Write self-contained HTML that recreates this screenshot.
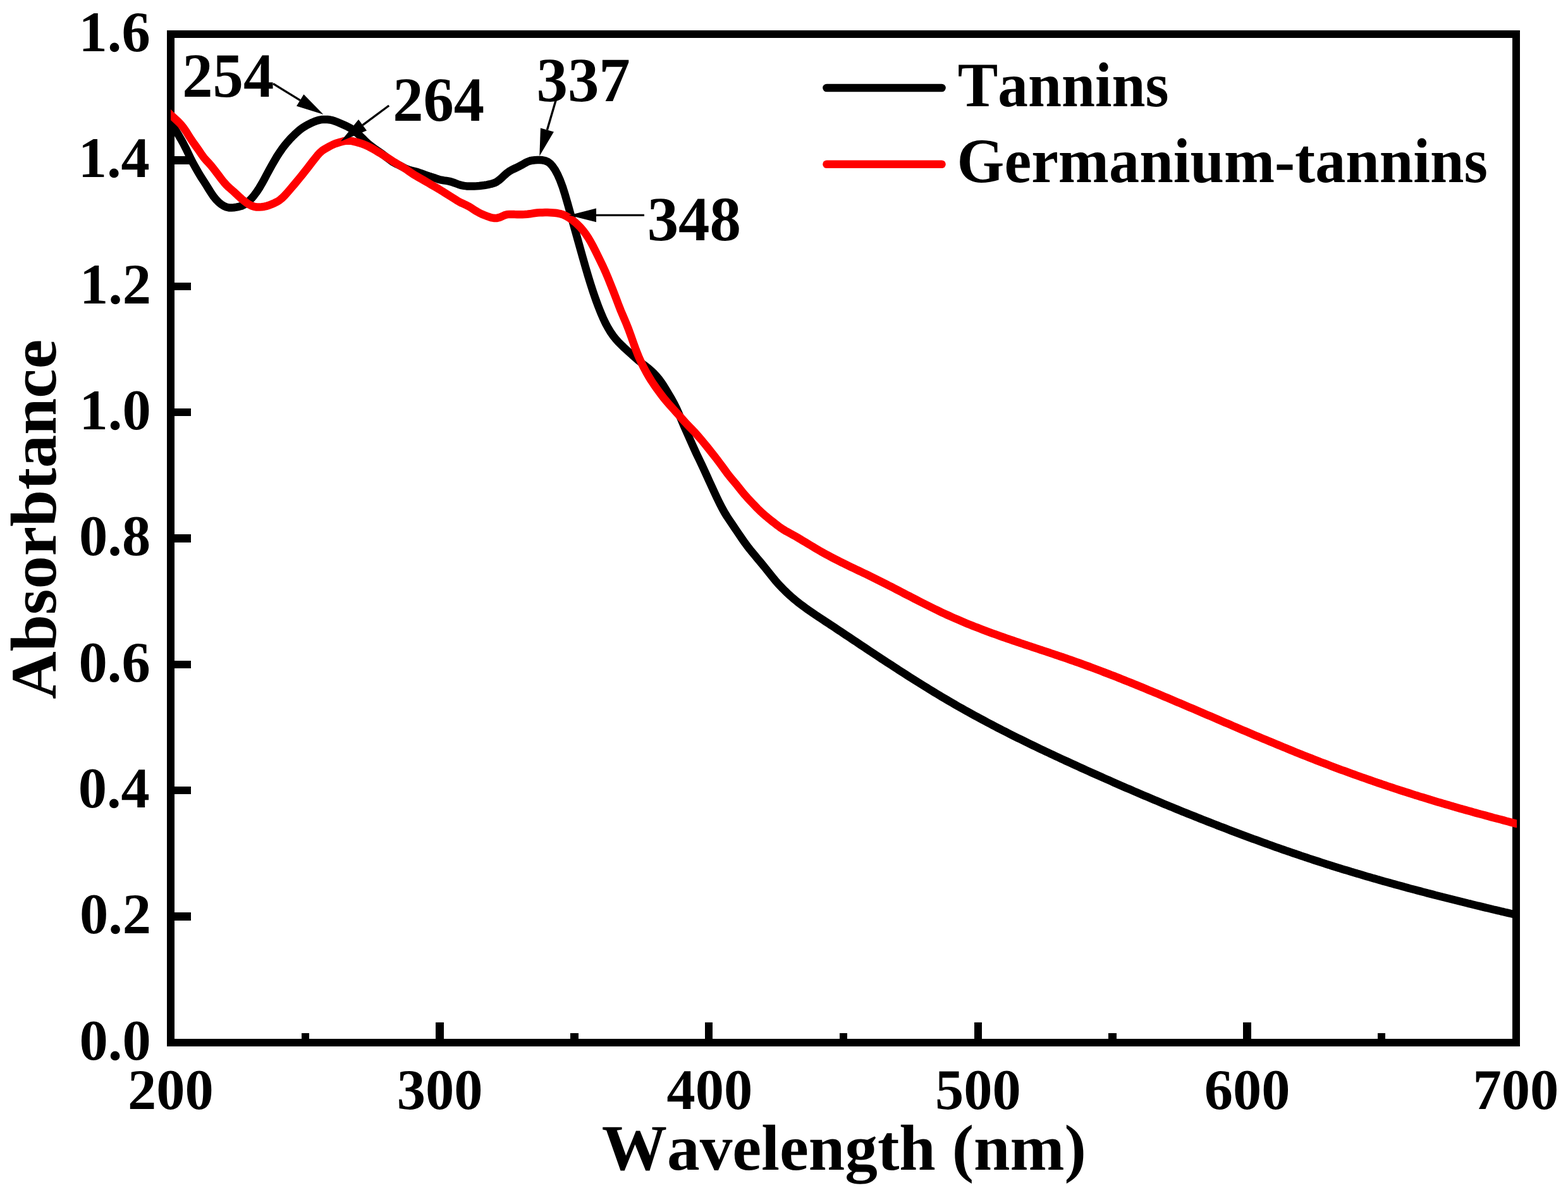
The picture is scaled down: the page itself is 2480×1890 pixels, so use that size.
<!DOCTYPE html>
<html lang="en"><head><meta charset="utf-8"><title>UV-Vis absorbance: Tannins vs Germanium-tannins</title>
<style>html,body{margin:0;padding:0;background:#fff;}body{width:2480px;height:1890px;overflow:hidden;}svg{display:block;}text{font-family:"Liberation Serif","DejaVu Serif",serif;font-weight:bold;font-kerning:none;fill:#000;}</style></head><body>
<svg xmlns="http://www.w3.org/2000/svg" width="2480" height="1890" viewBox="0 0 2480 1890" shape-rendering="crispEdges">
<rect x="0" y="0" width="2480" height="1890" fill="#fff"/>
<g fill="#000">
<rect x="264.00" y="48.00" width="12.00" height="1607.00"/>
<rect x="2392.00" y="48.00" width="12.00" height="1607.00"/>
<rect x="264.00" y="48.00" width="2140.00" height="12.00"/>
<rect x="264.00" y="1643.00" width="2140.00" height="12.00"/>
<rect x="270.00" y="1642.80" width="32.00" height="12.40"/>
<rect x="270.00" y="1443.42" width="32.00" height="12.40"/>
<rect x="270.00" y="1244.05" width="32.00" height="12.40"/>
<rect x="270.00" y="1044.67" width="32.00" height="12.40"/>
<rect x="270.00" y="845.30" width="32.00" height="12.40"/>
<rect x="270.00" y="645.92" width="32.00" height="12.40"/>
<rect x="270.00" y="446.55" width="32.00" height="12.40"/>
<rect x="270.00" y="247.18" width="32.00" height="12.40"/>
<rect x="270.00" y="47.80" width="32.00" height="12.40"/>
<rect x="263.80" y="1617.00" width="12.40" height="32.00"/>
<rect x="689.40" y="1617.00" width="12.40" height="32.00"/>
<rect x="1115.00" y="1617.00" width="12.40" height="32.00"/>
<rect x="1540.60" y="1617.00" width="12.40" height="32.00"/>
<rect x="1966.20" y="1617.00" width="12.40" height="32.00"/>
<rect x="2391.80" y="1617.00" width="12.40" height="32.00"/>
<rect x="476.60" y="1633.50" width="12.40" height="15.50"/>
<rect x="902.20" y="1633.50" width="12.40" height="15.50"/>
<rect x="1327.80" y="1633.50" width="12.40" height="15.50"/>
<rect x="1753.40" y="1633.50" width="12.40" height="15.50"/>
<rect x="2179.00" y="1633.50" width="12.40" height="15.50"/>
</g>
<clipPath id="plotclip"><rect x="270.0" y="54.0" width="2129.0" height="1595.0"/></clipPath>
<g fill="none" stroke-width="12.5" stroke-linejoin="round" stroke-linecap="butt" shape-rendering="geometricPrecision" clip-path="url(#plotclip)">
<path stroke="#000" d="M262.0,177.9 L266.0,185.0 L270.0,192.2 L274.0,199.5 L278.0,206.4 L282.0,213.0 L286.0,219.8 L290.0,227.0 L294.0,234.8 L298.0,243.1 L302.0,251.6 L306.0,259.3 L310.0,266.4 L314.0,273.3 L318.0,280.0 L322.0,286.2 L326.0,292.4 L330.0,298.9 L334.0,305.3 L338.0,311.1 L342.0,315.9 L346.0,320.0 L350.0,323.3 L354.0,325.8 L358.0,327.5 L362.0,328.4 L366.0,328.5 L370.0,328.2 L374.0,327.6 L378.0,326.8 L382.0,325.7 L386.0,323.9 L390.0,321.2 L394.0,317.8 L398.0,313.7 L402.0,308.9 L406.0,303.5 L410.0,297.5 L414.0,290.7 L418.0,283.4 L422.0,275.9 L426.0,268.5 L430.0,261.3 L434.0,254.3 L438.0,247.5 L442.0,241.3 L446.0,235.6 L450.0,230.3 L454.0,225.4 L458.0,220.8 L462.0,216.6 L466.0,212.7 L470.0,209.0 L474.0,205.6 L478.0,202.6 L482.0,200.0 L486.0,197.7 L490.0,195.7 L494.0,193.7 L498.0,192.0 L502.0,190.6 L506.0,189.6 L510.0,189.0 L514.0,188.9 L518.0,189.0 L522.0,189.5 L526.0,190.4 L530.0,191.7 L534.0,193.3 L538.0,195.0 L542.0,196.7 L546.0,198.5 L550.0,200.4 L554.0,202.6 L558.0,205.2 L562.0,208.3 L566.0,211.7 L570.0,215.4 L574.0,219.3 L578.0,223.3 L582.0,227.0 L586.0,230.3 L590.0,233.3 L594.0,236.2 L598.0,238.9 L602.0,241.7 L606.0,244.6 L610.0,247.7 L614.0,250.8 L618.0,253.8 L622.0,256.6 L626.0,258.8 L630.0,260.7 L634.0,262.7 L638.0,264.8 L642.0,266.8 L646.0,268.4 L650.0,269.6 L654.0,270.6 L658.0,271.6 L662.0,272.8 L666.0,274.2 L670.0,275.7 L674.0,277.1 L678.0,278.5 L682.0,279.8 L686.0,281.0 L690.0,282.4 L694.0,283.7 L698.0,284.7 L702.0,285.4 L706.0,285.9 L710.0,286.6 L714.0,287.6 L718.0,289.0 L722.0,290.5 L726.0,292.0 L730.0,293.1 L734.0,293.9 L738.0,294.4 L742.0,294.6 L746.0,294.6 L750.0,294.5 L754.0,294.3 L758.0,294.0 L762.0,293.5 L766.0,293.0 L770.0,292.3 L774.0,291.5 L778.0,290.6 L782.0,289.3 L786.0,287.3 L790.0,284.4 L794.0,280.8 L798.0,277.0 L802.0,273.5 L806.0,270.7 L810.0,268.4 L814.0,266.5 L818.0,264.6 L822.0,262.6 L826.0,260.4 L830.0,258.1 L834.0,256.0 L838.0,254.5 L842.0,253.7 L846.0,253.2 L850.0,253.0 L854.0,253.0 L858.0,253.3 L862.0,254.1 L866.0,255.7 L870.0,258.5 L874.0,262.9 L878.0,268.8 L882.0,276.2 L886.0,285.3 L890.0,296.2 L894.0,308.9 L898.0,322.8 L902.0,337.1 L906.0,351.4 L910.0,365.5 L914.0,379.7 L918.0,394.1 L922.0,408.4 L926.0,422.4 L930.0,436.0 L934.0,449.0 L938.0,461.4 L942.0,473.0 L946.0,483.8 L950.0,494.0 L954.0,503.4 L958.0,511.7 L962.0,519.1 L966.0,525.7 L970.0,531.4 L974.0,536.4 L978.0,540.9 L982.0,544.9 L986.0,548.8 L990.0,552.5 L994.0,556.1 L998.0,559.7 L1002.0,563.2 L1006.0,566.7 L1010.0,570.2 L1014.0,573.6 L1018.0,576.8 L1022.0,579.8 L1026.0,583.0 L1030.0,586.4 L1034.0,590.3 L1038.0,594.5 L1042.0,599.3 L1046.0,604.7 L1050.0,610.8 L1054.0,617.3 L1058.0,623.9 L1062.0,630.7 L1066.0,638.0 L1070.0,646.1 L1074.0,655.1 L1078.0,664.7 L1082.0,674.0 L1086.0,683.0 L1090.0,692.0 L1094.0,701.0 L1098.0,709.9 L1102.0,718.6 L1106.0,726.9 L1110.0,735.3 L1114.0,743.9 L1118.0,752.7 L1122.0,761.5 L1126.0,770.2 L1130.0,778.8 L1134.0,787.3 L1138.0,795.6 L1142.0,803.4 L1146.0,810.6 L1150.0,817.1 L1154.0,823.1 L1158.0,829.0 L1162.0,834.9 L1166.0,840.9 L1170.0,846.8 L1174.0,852.6 L1178.0,858.3 L1182.0,863.7 L1186.0,868.9 L1190.0,873.8 L1194.0,878.6 L1198.0,883.4 L1202.0,888.1 L1206.0,893.0 L1210.0,897.9 L1214.0,902.9 L1218.0,907.9 L1222.0,912.9 L1226.0,917.8 L1230.0,922.4 L1234.0,926.7 L1238.0,930.9 L1242.0,934.9 L1246.0,938.7 L1250.0,942.4 L1254.0,945.9 L1258.0,949.2 L1262.0,952.5 L1266.0,955.6 L1270.0,958.6 L1274.0,961.5 L1278.0,964.4 L1282.0,967.1 L1286.0,969.9 L1290.0,972.6 L1294.0,975.2 L1298.0,977.9 L1302.0,980.5 L1306.0,983.2 L1310.0,985.8 L1314.0,988.5 L1318.0,991.1 L1322.0,993.8 L1326.0,996.5 L1330.0,999.1 L1334.0,1001.8 L1338.0,1004.5 L1342.0,1007.1 L1346.0,1009.8 L1350.0,1012.5 L1354.0,1015.1 L1358.0,1017.8 L1362.0,1020.5 L1366.0,1023.1 L1370.0,1025.8 L1374.0,1028.4 L1378.0,1031.1 L1382.0,1033.7 L1386.0,1036.4 L1390.0,1039.0 L1394.0,1041.7 L1398.0,1044.3 L1402.0,1046.9 L1406.0,1049.5 L1410.0,1052.1 L1414.0,1054.7 L1418.0,1057.3 L1422.0,1059.9 L1426.0,1062.5 L1430.0,1065.1 L1434.0,1067.6 L1438.0,1070.2 L1442.0,1072.7 L1446.0,1075.3 L1450.0,1077.8 L1454.0,1080.3 L1458.0,1082.8 L1462.0,1085.3 L1466.0,1087.7 L1470.0,1090.2 L1474.0,1092.6 L1478.0,1095.1 L1482.0,1097.5 L1486.0,1099.9 L1490.0,1102.3 L1494.0,1104.7 L1498.0,1107.0 L1502.0,1109.4 L1506.0,1111.7 L1510.0,1114.0 L1514.0,1116.3 L1518.0,1118.6 L1522.0,1120.8 L1526.0,1123.1 L1530.0,1125.3 L1534.0,1127.5 L1538.0,1129.7 L1542.0,1131.9 L1546.0,1134.1 L1550.0,1136.3 L1554.0,1138.4 L1558.0,1140.6 L1562.0,1142.7 L1566.0,1144.8 L1570.0,1146.9 L1574.0,1149.0 L1578.0,1151.1 L1582.0,1153.1 L1586.0,1155.2 L1590.0,1157.2 L1594.0,1159.3 L1598.0,1161.3 L1602.0,1163.3 L1606.0,1165.3 L1610.0,1167.3 L1614.0,1169.2 L1618.0,1171.2 L1622.0,1173.2 L1626.0,1175.1 L1630.0,1177.1 L1634.0,1179.0 L1638.0,1180.9 L1642.0,1182.9 L1646.0,1184.8 L1650.0,1186.7 L1654.0,1188.6 L1658.0,1190.4 L1662.0,1192.3 L1666.0,1194.2 L1670.0,1196.1 L1674.0,1197.9 L1678.0,1199.8 L1682.0,1201.6 L1686.0,1203.5 L1690.0,1205.3 L1694.0,1207.2 L1698.0,1209.0 L1702.0,1210.8 L1706.0,1212.6 L1710.0,1214.5 L1714.0,1216.3 L1718.0,1218.1 L1722.0,1219.9 L1726.0,1221.7 L1730.0,1223.5 L1734.0,1225.3 L1738.0,1227.0 L1742.0,1228.8 L1746.0,1230.6 L1750.0,1232.4 L1754.0,1234.1 L1758.0,1235.9 L1762.0,1237.7 L1766.0,1239.4 L1770.0,1241.2 L1774.0,1242.9 L1778.0,1244.7 L1782.0,1246.4 L1786.0,1248.1 L1790.0,1249.8 L1794.0,1251.6 L1798.0,1253.3 L1802.0,1255.0 L1806.0,1256.7 L1810.0,1258.4 L1814.0,1260.1 L1818.0,1261.8 L1822.0,1263.5 L1826.0,1265.2 L1830.0,1266.8 L1834.0,1268.5 L1838.0,1270.2 L1842.0,1271.9 L1846.0,1273.5 L1850.0,1275.2 L1854.0,1276.8 L1858.0,1278.5 L1862.0,1280.1 L1866.0,1281.7 L1870.0,1283.4 L1874.0,1285.0 L1878.0,1286.6 L1882.0,1288.2 L1886.0,1289.8 L1890.0,1291.4 L1894.0,1293.0 L1898.0,1294.6 L1902.0,1296.2 L1906.0,1297.8 L1910.0,1299.4 L1914.0,1300.9 L1918.0,1302.5 L1922.0,1304.0 L1926.0,1305.6 L1930.0,1307.2 L1934.0,1308.7 L1938.0,1310.2 L1942.0,1311.8 L1946.0,1313.3 L1950.0,1314.8 L1954.0,1316.3 L1958.0,1317.8 L1962.0,1319.3 L1966.0,1320.8 L1970.0,1322.3 L1974.0,1323.8 L1978.0,1325.3 L1982.0,1326.8 L1986.0,1328.2 L1990.0,1329.7 L1994.0,1331.2 L1998.0,1332.6 L2002.0,1334.0 L2006.0,1335.5 L2010.0,1336.9 L2014.0,1338.3 L2018.0,1339.8 L2022.0,1341.2 L2026.0,1342.6 L2030.0,1344.0 L2034.0,1345.4 L2038.0,1346.7 L2042.0,1348.1 L2046.0,1349.5 L2050.0,1350.8 L2054.0,1352.2 L2058.0,1353.6 L2062.0,1354.9 L2066.0,1356.2 L2070.0,1357.6 L2074.0,1358.9 L2078.0,1360.2 L2082.0,1361.5 L2086.0,1362.8 L2090.0,1364.1 L2094.0,1365.4 L2098.0,1366.7 L2102.0,1367.9 L2106.0,1369.2 L2110.0,1370.5 L2114.0,1371.7 L2118.0,1372.9 L2122.0,1374.2 L2126.0,1375.4 L2130.0,1376.6 L2134.0,1377.8 L2138.0,1379.1 L2142.0,1380.3 L2146.0,1381.4 L2150.0,1382.6 L2154.0,1383.8 L2158.0,1385.0 L2162.0,1386.2 L2166.0,1387.3 L2170.0,1388.5 L2174.0,1389.6 L2178.0,1390.8 L2182.0,1391.9 L2186.0,1393.1 L2190.0,1394.2 L2194.0,1395.3 L2198.0,1396.4 L2202.0,1397.5 L2206.0,1398.6 L2210.0,1399.7 L2214.0,1400.8 L2218.0,1401.9 L2222.0,1403.0 L2226.0,1404.1 L2230.0,1405.2 L2234.0,1406.2 L2238.0,1407.3 L2242.0,1408.4 L2246.0,1409.4 L2250.0,1410.5 L2254.0,1411.5 L2258.0,1412.6 L2262.0,1413.6 L2266.0,1414.6 L2270.0,1415.7 L2274.0,1416.7 L2278.0,1417.7 L2282.0,1418.8 L2286.0,1419.8 L2290.0,1420.8 L2294.0,1421.8 L2298.0,1422.8 L2302.0,1423.8 L2306.0,1424.8 L2310.0,1425.8 L2314.0,1426.8 L2318.0,1427.8 L2322.0,1428.8 L2326.0,1429.7 L2330.0,1430.7 L2334.0,1431.7 L2338.0,1432.7 L2342.0,1433.6 L2346.0,1434.6 L2350.0,1435.6 L2354.0,1436.5 L2358.0,1437.5 L2362.0,1438.5 L2366.0,1439.4 L2370.0,1440.3 L2374.0,1441.3 L2378.0,1442.2 L2382.0,1443.2 L2386.0,1444.1 L2390.0,1445.0 L2394.0,1446.0 L2398.0,1446.9 L2402.0,1447.8 L2406.0,1448.7"/>
<path stroke="#ff0000" d="M262.0,174.0 L266.0,177.8 L270.0,181.5 L274.0,185.1 L278.0,188.8 L282.0,192.6 L286.0,196.8 L290.0,201.7 L294.0,207.3 L298.0,213.7 L302.0,220.0 L306.0,225.9 L310.0,231.5 L314.0,237.2 L318.0,243.1 L322.0,248.7 L326.0,253.4 L330.0,257.6 L334.0,262.2 L338.0,267.2 L342.0,272.4 L346.0,277.6 L350.0,282.9 L354.0,288.0 L358.0,292.5 L362.0,296.4 L366.0,299.9 L370.0,303.4 L374.0,307.1 L378.0,310.9 L382.0,314.5 L386.0,317.8 L390.0,320.8 L394.0,323.4 L398.0,325.5 L402.0,326.8 L406.0,327.5 L410.0,327.6 L414.0,327.3 L418.0,326.7 L422.0,325.8 L426.0,324.5 L430.0,322.9 L434.0,321.2 L438.0,319.2 L442.0,316.7 L446.0,313.4 L450.0,309.5 L454.0,305.1 L458.0,300.5 L462.0,295.8 L466.0,291.1 L470.0,286.3 L474.0,281.4 L478.0,276.5 L482.0,271.4 L486.0,266.3 L490.0,261.1 L494.0,255.9 L498.0,250.8 L502.0,245.8 L506.0,241.4 L510.0,238.0 L514.0,235.4 L518.0,233.2 L522.0,231.0 L526.0,229.0 L530.0,227.3 L534.0,226.0 L538.0,224.8 L542.0,223.7 L546.0,222.8 L550.0,222.5 L554.0,222.7 L558.0,223.4 L562.0,224.3 L566.0,225.4 L570.0,226.5 L574.0,227.9 L578.0,229.5 L582.0,231.3 L586.0,233.4 L590.0,235.6 L594.0,237.9 L598.0,240.3 L602.0,242.7 L606.0,245.2 L610.0,247.7 L614.0,250.3 L618.0,252.8 L622.0,255.4 L626.0,257.9 L630.0,260.3 L634.0,262.6 L638.0,265.0 L642.0,267.5 L646.0,270.3 L650.0,273.1 L654.0,275.8 L658.0,278.2 L662.0,280.5 L666.0,282.7 L670.0,285.0 L674.0,287.4 L678.0,289.7 L682.0,292.1 L686.0,294.4 L690.0,296.7 L694.0,299.0 L698.0,301.5 L702.0,303.9 L706.0,306.5 L710.0,309.0 L714.0,311.5 L718.0,314.0 L722.0,316.6 L726.0,319.0 L730.0,321.1 L734.0,322.8 L738.0,324.7 L742.0,326.8 L746.0,329.3 L750.0,331.9 L754.0,334.4 L758.0,336.7 L762.0,338.6 L766.0,340.2 L770.0,341.8 L774.0,343.2 L778.0,344.4 L782.0,345.0 L786.0,344.9 L790.0,343.9 L794.0,342.2 L798.0,340.4 L802.0,339.3 L806.0,338.9 L810.0,338.9 L814.0,339.1 L818.0,339.2 L822.0,339.3 L826.0,339.2 L830.0,339.0 L834.0,338.7 L838.0,338.3 L842.0,337.6 L846.0,337.0 L850.0,336.5 L854.0,336.3 L858.0,336.2 L862.0,336.1 L866.0,336.1 L870.0,336.2 L874.0,336.4 L878.0,336.7 L882.0,337.3 L886.0,338.1 L890.0,339.2 L894.0,341.0 L898.0,343.2 L902.0,345.8 L906.0,348.6 L910.0,351.9 L914.0,355.6 L918.0,359.7 L922.0,364.3 L926.0,369.5 L930.0,375.4 L934.0,382.1 L938.0,389.5 L942.0,397.3 L946.0,405.5 L950.0,413.7 L954.0,422.0 L958.0,430.8 L962.0,440.4 L966.0,450.4 L970.0,460.4 L974.0,470.7 L978.0,481.4 L982.0,491.6 L986.0,501.0 L990.0,510.4 L994.0,520.4 L998.0,531.3 L1002.0,542.7 L1006.0,553.8 L1010.0,563.9 L1014.0,572.8 L1018.0,580.9 L1022.0,588.4 L1026.0,595.4 L1030.0,601.9 L1034.0,607.9 L1038.0,613.6 L1042.0,619.1 L1046.0,624.5 L1050.0,629.7 L1054.0,634.5 L1058.0,639.2 L1062.0,643.7 L1066.0,648.1 L1070.0,652.6 L1074.0,657.0 L1078.0,661.5 L1082.0,666.0 L1086.0,670.4 L1090.0,674.6 L1094.0,678.7 L1098.0,682.8 L1102.0,687.2 L1106.0,691.8 L1110.0,696.5 L1114.0,701.4 L1118.0,706.3 L1122.0,711.2 L1126.0,716.3 L1130.0,721.4 L1134.0,726.5 L1138.0,731.9 L1142.0,737.3 L1146.0,742.8 L1150.0,748.3 L1154.0,753.4 L1158.0,758.2 L1162.0,763.0 L1166.0,767.8 L1170.0,772.9 L1174.0,777.9 L1178.0,782.7 L1182.0,787.2 L1186.0,791.5 L1190.0,795.7 L1194.0,799.9 L1198.0,804.1 L1202.0,808.0 L1206.0,811.8 L1210.0,815.2 L1214.0,818.6 L1218.0,821.8 L1222.0,825.0 L1226.0,828.2 L1230.0,831.3 L1234.0,834.2 L1238.0,836.9 L1242.0,839.4 L1246.0,841.6 L1250.0,843.7 L1254.0,845.9 L1258.0,848.2 L1262.0,850.5 L1266.0,852.9 L1270.0,855.3 L1274.0,857.7 L1278.0,860.1 L1282.0,862.5 L1286.0,864.9 L1290.0,867.3 L1294.0,869.6 L1298.0,872.0 L1302.0,874.2 L1306.0,876.4 L1310.0,878.6 L1314.0,880.8 L1318.0,882.9 L1322.0,884.9 L1326.0,886.9 L1330.0,889.0 L1334.0,890.9 L1338.0,892.9 L1342.0,894.8 L1346.0,896.8 L1350.0,898.7 L1354.0,900.6 L1358.0,902.5 L1362.0,904.4 L1366.0,906.3 L1370.0,908.2 L1374.0,910.2 L1378.0,912.1 L1382.0,914.1 L1386.0,916.1 L1390.0,918.1 L1394.0,920.1 L1398.0,922.1 L1402.0,924.1 L1406.0,926.2 L1410.0,928.2 L1414.0,930.3 L1418.0,932.4 L1422.0,934.4 L1426.0,936.5 L1430.0,938.6 L1434.0,940.7 L1438.0,942.7 L1442.0,944.8 L1446.0,946.9 L1450.0,948.9 L1454.0,951.0 L1458.0,953.0 L1462.0,955.0 L1466.0,957.0 L1470.0,959.0 L1474.0,961.0 L1478.0,963.0 L1482.0,964.9 L1486.0,966.9 L1490.0,968.8 L1494.0,970.6 L1498.0,972.5 L1502.0,974.3 L1506.0,976.1 L1510.0,977.9 L1514.0,979.6 L1518.0,981.3 L1522.0,983.0 L1526.0,984.7 L1530.0,986.4 L1534.0,988.0 L1538.0,989.6 L1542.0,991.2 L1546.0,992.7 L1550.0,994.3 L1554.0,995.8 L1558.0,997.3 L1562.0,998.8 L1566.0,1000.3 L1570.0,1001.8 L1574.0,1003.2 L1578.0,1004.6 L1582.0,1006.1 L1586.0,1007.5 L1590.0,1008.9 L1594.0,1010.3 L1598.0,1011.6 L1602.0,1013.0 L1606.0,1014.4 L1610.0,1015.7 L1614.0,1017.1 L1618.0,1018.4 L1622.0,1019.8 L1626.0,1021.1 L1630.0,1022.4 L1634.0,1023.8 L1638.0,1025.1 L1642.0,1026.4 L1646.0,1027.8 L1650.0,1029.1 L1654.0,1030.4 L1658.0,1031.7 L1662.0,1033.1 L1666.0,1034.4 L1670.0,1035.8 L1674.0,1037.1 L1678.0,1038.5 L1682.0,1039.8 L1686.0,1041.2 L1690.0,1042.6 L1694.0,1044.0 L1698.0,1045.4 L1702.0,1046.8 L1706.0,1048.2 L1710.0,1049.7 L1714.0,1051.1 L1718.0,1052.6 L1722.0,1054.0 L1726.0,1055.5 L1730.0,1057.0 L1734.0,1058.5 L1738.0,1060.0 L1742.0,1061.5 L1746.0,1063.1 L1750.0,1064.6 L1754.0,1066.1 L1758.0,1067.7 L1762.0,1069.2 L1766.0,1070.8 L1770.0,1072.4 L1774.0,1074.0 L1778.0,1075.6 L1782.0,1077.2 L1786.0,1078.8 L1790.0,1080.4 L1794.0,1082.0 L1798.0,1083.6 L1802.0,1085.3 L1806.0,1086.9 L1810.0,1088.5 L1814.0,1090.2 L1818.0,1091.9 L1822.0,1093.5 L1826.0,1095.2 L1830.0,1096.8 L1834.0,1098.5 L1838.0,1100.2 L1842.0,1101.9 L1846.0,1103.6 L1850.0,1105.3 L1854.0,1107.0 L1858.0,1108.7 L1862.0,1110.4 L1866.0,1112.1 L1870.0,1113.8 L1874.0,1115.5 L1878.0,1117.2 L1882.0,1118.9 L1886.0,1120.6 L1890.0,1122.3 L1894.0,1124.0 L1898.0,1125.7 L1902.0,1127.5 L1906.0,1129.2 L1910.0,1130.9 L1914.0,1132.6 L1918.0,1134.3 L1922.0,1136.0 L1926.0,1137.8 L1930.0,1139.5 L1934.0,1141.2 L1938.0,1142.9 L1942.0,1144.6 L1946.0,1146.3 L1950.0,1148.1 L1954.0,1149.8 L1958.0,1151.5 L1962.0,1153.2 L1966.0,1154.9 L1970.0,1156.6 L1974.0,1158.3 L1978.0,1160.0 L1982.0,1161.7 L1986.0,1163.4 L1990.0,1165.1 L1994.0,1166.7 L1998.0,1168.4 L2002.0,1170.1 L2006.0,1171.8 L2010.0,1173.4 L2014.0,1175.1 L2018.0,1176.8 L2022.0,1178.4 L2026.0,1180.1 L2030.0,1181.7 L2034.0,1183.3 L2038.0,1185.0 L2042.0,1186.6 L2046.0,1188.2 L2050.0,1189.9 L2054.0,1191.5 L2058.0,1193.1 L2062.0,1194.7 L2066.0,1196.3 L2070.0,1197.8 L2074.0,1199.4 L2078.0,1201.0 L2082.0,1202.6 L2086.0,1204.1 L2090.0,1205.7 L2094.0,1207.2 L2098.0,1208.7 L2102.0,1210.3 L2106.0,1211.8 L2110.0,1213.3 L2114.0,1214.8 L2118.0,1216.3 L2122.0,1217.8 L2126.0,1219.2 L2130.0,1220.7 L2134.0,1222.2 L2138.0,1223.6 L2142.0,1225.0 L2146.0,1226.5 L2150.0,1227.9 L2154.0,1229.3 L2158.0,1230.7 L2162.0,1232.1 L2166.0,1233.5 L2170.0,1234.9 L2174.0,1236.3 L2178.0,1237.7 L2182.0,1239.0 L2186.0,1240.4 L2190.0,1241.7 L2194.0,1243.1 L2198.0,1244.4 L2202.0,1245.7 L2206.0,1247.1 L2210.0,1248.4 L2214.0,1249.7 L2218.0,1251.0 L2222.0,1252.3 L2226.0,1253.5 L2230.0,1254.8 L2234.0,1256.1 L2238.0,1257.4 L2242.0,1258.6 L2246.0,1259.9 L2250.0,1261.1 L2254.0,1262.3 L2258.0,1263.5 L2262.0,1264.8 L2266.0,1266.0 L2270.0,1267.2 L2274.0,1268.4 L2278.0,1269.6 L2282.0,1270.8 L2286.0,1271.9 L2290.0,1273.1 L2294.0,1274.3 L2298.0,1275.4 L2302.0,1276.6 L2306.0,1277.7 L2310.0,1278.9 L2314.0,1280.0 L2318.0,1281.1 L2322.0,1282.2 L2326.0,1283.3 L2330.0,1284.5 L2334.0,1285.6 L2338.0,1286.7 L2342.0,1287.8 L2346.0,1288.8 L2350.0,1289.9 L2354.0,1291.0 L2358.0,1292.1 L2362.0,1293.2 L2366.0,1294.2 L2370.0,1295.3 L2374.0,1296.3 L2378.0,1297.4 L2382.0,1298.5 L2386.0,1299.5 L2390.0,1300.6 L2394.0,1301.6 L2398.0,1302.6 L2402.0,1303.7 L2406.0,1304.7"/>
</g>
<g fill="none" stroke-width="12.6" stroke-linecap="round" shape-rendering="geometricPrecision">
<line x1="1307.5" y1="139" x2="1489.5" y2="139" stroke="#000"/>
<line x1="1307.5" y1="259.8" x2="1489.5" y2="259.8" stroke="#ff0000"/>
</g>
<g shape-rendering="geometricPrecision">
<line x1="432.0" y1="132.4" x2="474.7" y2="158.6" stroke="#000" stroke-width="3.4"/>
<polygon points="511.4,181.0 469.0,167.8 480.4,149.3" fill="#000"/>
<line x1="615.2" y1="167.0" x2="573.6" y2="197.8" stroke="#000" stroke-width="3.4"/>
<polygon points="539.0,223.4 567.1,189.1 580.0,206.6" fill="#000"/>
<line x1="879.0" y1="159.0" x2="865.4" y2="205.4" stroke="#000" stroke-width="3.4"/>
<polygon points="853.3,246.7 854.9,202.4 875.9,208.5" fill="#000"/>
<line x1="1019.0" y1="340.4" x2="943.0" y2="340.4" stroke="#000" stroke-width="3.4"/>
<polygon points="900.0,340.4 943.0,329.5 943.0,351.3" fill="#000"/>
</g>
<g text-rendering="geometricPrecision">
<text transform="translate(288.23,152.50) scale(0.9667,0.9954)" font-size="100" >254</text>
<text transform="translate(621.24,191.00) scale(0.9660,0.9954)" font-size="100" >264</text>
<text transform="translate(848.44,160.00) scale(0.9889,0.9954)" font-size="100" >337</text>
<text transform="translate(1023.64,379.50) scale(0.9895,0.9954)" font-size="100" >348</text>
<text transform="translate(1514.77,167.80) scale(0.9535,1.0000)" font-size="100" >Tannins</text>
<text transform="translate(1513.59,287.50) scale(0.9623,1.0000)" font-size="100" >Germanium-tannins</text>
<text transform="translate(125.50,1675.80) scale(0.9050,0.9084)" font-size="100" >0.0</text>
<text transform="translate(125.95,1476.42) scale(0.9050,0.9084)" font-size="100" >0.2</text>
<text transform="translate(123.69,1277.05) scale(0.9050,0.9084)" font-size="100" >0.4</text>
<text transform="translate(124.59,1077.67) scale(0.9050,0.9084)" font-size="100" >0.6</text>
<text transform="translate(125.04,878.30) scale(0.9050,0.9084)" font-size="100" >0.8</text>
<text transform="translate(125.50,678.92) scale(0.9050,0.9084)" font-size="100" >1.0</text>
<text transform="translate(125.95,479.55) scale(0.9050,0.9084)" font-size="100" >1.2</text>
<text transform="translate(123.69,280.18) scale(0.9050,0.9084)" font-size="100" >1.4</text>
<text transform="translate(124.59,80.80) scale(0.9050,0.9084)" font-size="100" >1.6</text>
<text transform="translate(202.12,1753.60) scale(0.9050,0.9084)" font-size="100" >200</text>
<text transform="translate(627.73,1753.60) scale(0.9050,0.9084)" font-size="100" >300</text>
<text transform="translate(1054.46,1753.60) scale(0.9050,0.9084)" font-size="100" >400</text>
<text transform="translate(1478.93,1753.60) scale(0.9050,0.9084)" font-size="100" >500</text>
<text transform="translate(1904.75,1753.60) scale(0.9050,0.9084)" font-size="100" >600</text>
<text transform="translate(2329.45,1753.60) scale(0.9050,0.9084)" font-size="100" >700</text>
<text transform="translate(951.65,1850.20) scale(1.0334,1.0277)" font-size="100" >Wavelength (nm)</text>
<text transform="translate(87.5,1105.74) rotate(-90) scale(1.0447,1.0277)" font-size="100">Absorbtance</text>
</g>
</svg></body></html>
